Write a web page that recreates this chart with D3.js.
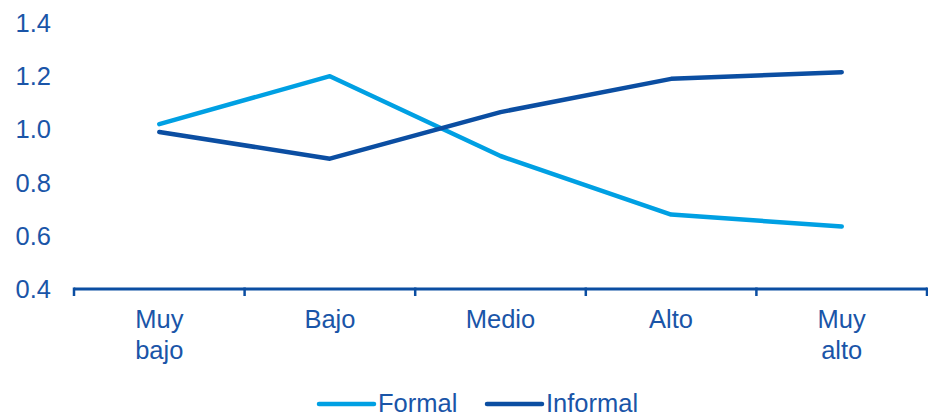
<!DOCTYPE html>
<html>
<head>
<meta charset="utf-8">
<script src="https://cdn.jsdelivr.net/npm/d3@7"></script>
<style>
  html, body { margin: 0; padding: 0; background: #fff; }
  svg { display: block; font-family: "Liberation Sans", Arial, sans-serif; }
</style>
</head>
<body>
<svg id="chart" width="928" height="414"></svg>
<script>
const categories = ["Muy bajo", "Bajo", "Medio", "Alto", "Muy alto"];
const formalValues = [1.02, 1.20, 0.90, 0.68, 0.635];
const informalValues = [0.99, 0.89, 1.065, 1.19, 1.215];
const yTicks = [0.4, 0.6, 0.8, 1.0, 1.2, 1.4];
const seriesNames = ["Formal", "Informal"];
const seriesColors = ["#00a0e3", "#0b4ea2"];
const textColor = "#1a55a8";
const axisColor = "#0b4ea2";

const series = [
  { name: seriesNames[0], values: formalValues, color: seriesColors[0] },
  { name: seriesNames[1], values: informalValues, color: seriesColors[1] }
];

const svg = d3.select("#chart");
const fontSize = 25.5;

const x = d3.scaleBand().domain(categories).range([74, 927]).padding(0);
const y = d3.scaleLinear().domain([0.4, 1.4]).range([289, 23]);

// Y axis labels (no line)
svg.append("g").selectAll("text")
  .data(yTicks).join("text")
  .attr("x", 51)
  .attr("y", d => y(d))
  .attr("dy", "0.35em")
  .attr("text-anchor", "end")
  .attr("fill", textColor)
  .attr("font-size", fontSize)
  .text(d => d3.format(".1f")(d));

// X axis
const xAxis = svg.append("g").attr("transform", `translate(0,${y(0.4)})`);
xAxis.append("line")
  .attr("x1", x.range()[0]).attr("x2", x.range()[1])
  .attr("stroke", axisColor).attr("stroke-width", 3);
const tickPos = categories.map(c => x(c)).concat([x.range()[1]]);
xAxis.selectAll("line.tick").data(tickPos).join("line")
  .attr("class", "tick")
  .attr("x1", d => d).attr("x2", d => d)
  .attr("y1", -1.5).attr("y2", 7)
  .attr("stroke", axisColor).attr("stroke-width", 2.5);

const labels = xAxis.selectAll("text").data(categories).join("text")
  .attr("x", d => x(d) + x.bandwidth() / 2)
  .attr("y", 38.5)
  .attr("text-anchor", "middle")
  .attr("fill", textColor)
  .attr("font-size", fontSize);
labels.each(function(d) {
  const words = d.split(" ");
  const t = d3.select(this);
  words.forEach((w, i) => {
    t.append("tspan")
      .attr("x", x(d) + x.bandwidth() / 2)
      .attr("dy", i === 0 ? 0 : 31)
      .text(w);
  });
});

// Lines
const line = d3.line()
  .x((d, i) => x(categories[i]) + x.bandwidth() / 2)
  .y(d => y(d));

svg.append("g").selectAll("path")
  .data(series).join("path")
  .attr("d", d => line(d.values))
  .attr("fill", "none")
  .attr("stroke", d => d.color)
  .attr("stroke-width", 4.5)
  .attr("stroke-linecap", "round")
  .attr("stroke-linejoin", "round");

// Legend
const legendX = [319, 487];
const legend = svg.append("g");
series.forEach((s, i) => {
  legend.append("line")
    .attr("x1", legendX[i]).attr("x2", legendX[i] + 55)
    .attr("y1", 404).attr("y2", 404)
    .attr("stroke", s.color).attr("stroke-width", 4.5)
    .attr("stroke-linecap", "round");
  legend.append("text")
    .attr("x", legendX[i] + 59)
    .attr("y", 411.5)
    .attr("fill", textColor)
    .attr("font-size", fontSize)
    .text(s.name);
});
</script>
</body>
</html>
